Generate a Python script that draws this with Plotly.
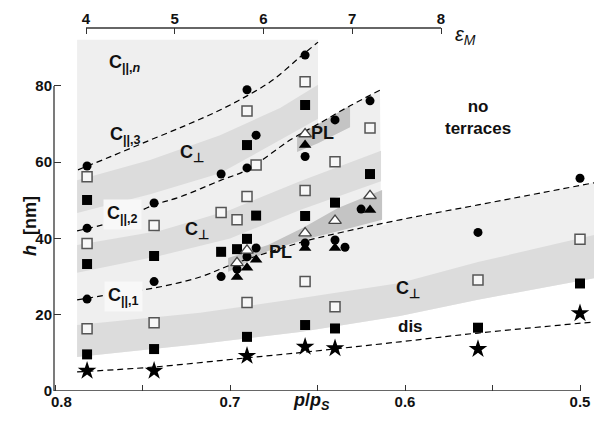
import plotly.graph_objects as go

# ---------------- data ----------------
# markers: p/pS and h [nm]
fc_p = [0.7817, 0.7817, 0.7817, 0.7434, 0.7434, 0.7051, 0.7051, 0.6960, 0.6903, 0.6903, 0.6903,
        0.6851, 0.6851, 0.6571, 0.6571, 0.6571, 0.6400, 0.6400, 0.6343, 0.6251, 0.6200, 0.5583, 0.5]
fc_h = [59.0, 42.7, 24.1, 49.3, 28.7, 56.9, 30.0, 32.0, 79.0, 58.5, 35.2,
        67.1, 37.5, 88.1, 61.5, 38.8, 71.1, 39.6, 37.7, 47.7, 76.1, 41.6, 55.8]

os_p = [0.7817, 0.7817, 0.7817, 0.7434, 0.7434, 0.7051, 0.6960, 0.6903, 0.6903, 0.6903,
        0.6851, 0.6571, 0.6571, 0.6571, 0.6400, 0.6400, 0.6200, 0.5583, 0.5]
os_h = [56.2, 38.7, 16.3, 43.4, 17.9, 46.8, 44.9, 73.4, 51.0, 23.2,
        59.3, 81.1, 52.6, 28.7, 60.1, 22.1, 69.0, 29.1, 39.8]

fs_p = [0.7817, 0.7817, 0.7817, 0.7434, 0.7434, 0.7051, 0.6960, 0.6903, 0.6903, 0.6903,
        0.6851, 0.6571, 0.6571, 0.6571, 0.6400, 0.6400, 0.6200, 0.5583, 0.5]
fs_h = [50.1, 33.3, 9.6, 35.4, 11.0, 36.5, 37.2, 64.5, 39.9, 14.2,
        46.0, 75.0, 45.9, 17.3, 49.4, 16.4, 56.9, 16.6, 28.2]

ot_p = [0.6960, 0.6903, 0.6571, 0.6571, 0.6400, 0.6200]
ot_h = [33.6, 36.9, 67.4, 41.4, 44.7, 51.2]

ft_p = [0.6960, 0.6903, 0.6851, 0.6571, 0.6571, 0.6400, 0.6200]
ft_h = [29.9, 32.3, 34.4, 64.5, 37.5, 37.5, 47.5]

st_p = [0.7817, 0.7434, 0.6903, 0.6571, 0.6400, 0.5583, 0.5]
st_h = [5.3, 5.3, 9.2, 11.6, 11.2, 11.0, 20.4]

# dashed guide lines
l1_p = [0.7869, 0.7686, 0.7457, 0.7246, 0.7057, 0.6903, 0.6754, 0.6600, 0.6497]
l1_h = [58.0, 61.4, 65.8, 69.8, 73.7, 77.4, 81.6, 87.6, 91.5]
l2_p = [0.7874, 0.7629, 0.7434, 0.7286, 0.7051, 0.6903, 0.6657, 0.6497, 0.6314, 0.6143]
l2_h = [42.0, 44.9, 48.8, 50.9, 55.3, 58.0, 65.8, 70.0, 74.8, 78.9]
l3_p = [0.7874, 0.7629, 0.7434, 0.7171, 0.6983, 0.6771, 0.6571, 0.6354, 0.6029, 0.5583, 0.4920]
l3_h = [23.9, 25.7, 27.0, 29.9, 33.3, 36.5, 39.3, 41.7, 44.9, 48.8, 54.6]
l4_p = [0.7874, 0.7434, 0.6903, 0.6571, 0.6029, 0.5583, 0.4920]
l4_h = [5.0, 6.3, 8.7, 10.2, 12.9, 15.2, 18.1]

# shaded regions
light_p = [0.7874, 0.6497, 0.6497, 0.6314, 0.6143, 0.6137, 0.6029, 0.5583, 0.4920,
           0.4920, 0.5583, 0.6029, 0.6600, 0.7171, 0.7874]
light_h = [92.1, 92.1, 70.0, 74.8, 78.9, 43.3, 44.9, 48.8, 54.6,
           29.6, 23.9, 19.7, 15.5, 12.3, 8.9]
band1_p = [0.7874, 0.7457, 0.7057, 0.6714, 0.6497, 0.6497, 0.6714, 0.7057, 0.7457, 0.7874]
band1_h = [55.3, 60.6, 67.1, 74.2, 80.3, 71.4, 65.8, 57.1, 51.6, 46.7]
band2_p = [0.7874, 0.7400, 0.7000, 0.6600, 0.6137, 0.6137, 0.6600, 0.7000, 0.7400, 0.7874]
band2_h = [38.3, 42.0, 47.5, 55.0, 63.0, 55.0, 47.5, 40.0, 35.5, 31.0]
band3_p = [0.7874, 0.7171, 0.6657, 0.6029, 0.5583, 0.4920,
           0.4920, 0.5583, 0.6029, 0.6600, 0.7171, 0.7874]
band3_h = [17.3, 20.5, 23.9, 28.3, 33.8, 40.9,
           29.6, 23.9, 19.7, 15.5, 12.3, 8.9]
pl1_p = [0.6617, 0.6497, 0.6314, 0.6314, 0.6497, 0.6617]
pl1_h = [67.1, 70.0, 74.8, 69.2, 65.0, 62.7]
pl2_p = [0.7011, 0.6783, 0.6583, 0.6383, 0.6131, 0.6131, 0.6383, 0.6583, 0.6783, 0.7011]
pl2_h = [34.9, 38.3, 42.8, 48.0, 52.7, 44.9, 41.9, 39.6, 36.7, 31.2]

x_ticks = [0.8, 0.75, 0.7, 0.65, 0.6, 0.55, 0.5]
x_ticktext = ['\u00a0\u00a0\u00a00.8', '', '0.7', '', '0.6', '', '0.5']
y_ticks = [0, 20, 40, 60, 80]
eps_ticks = [4, 5, 6, 7, 8]

# ---------------- figure ----------------
LIGHT = '#efefef'
MID = '#dcdcdc'
DARK = '#c4c4c4'
AX = '#333333'
FONT = 'Liberation Sans, Arial, Helvetica, sans-serif'

fig = go.Figure()

def region(px, hy, color):
    fig.add_trace(go.Scatter(x=px, y=hy, mode='lines', fill='toself', fillcolor=color,
                             line=dict(width=0, color=color), hoverinfo='skip', showlegend=False))

region(light_p, light_h, LIGHT)
region(band1_p, band1_h, MID)
region(band2_p, band2_h, MID)
region(band3_p, band3_h, MID)
region(pl1_p, pl1_h, DARK)
region(pl2_p, pl2_h, DARK)

for lp, lh in [(l1_p, l1_h), (l2_p, l2_h), (l3_p, l3_h), (l4_p, l4_h)]:
    fig.add_trace(go.Scatter(x=lp, y=lh, mode='lines', line=dict(color='black', width=1.2, dash='6px,4px'),
                             line_shape='spline', hoverinfo='skip', showlegend=False))

def pts(px, hy, symbol, size, fill, edge, lw):
    fig.add_trace(go.Scatter(x=px, y=hy, mode='markers', showlegend=False,
                             marker=dict(symbol=symbol, size=size, color=fill,
                                         line=dict(color=edge, width=lw))))

pts(os_p, os_h, 'square', 10, '#f7f7f7', '#555555', 1.5)
pts(fs_p, fs_h, 'square', 10, 'black', 'black', 0)
pts(fc_p, fc_h, 'circle', 9, 'black', 'black', 0)
pts(ot_p, ot_h, 'triangle-up', 11, 'white', '#444444', 1.3)
pts(ft_p, ft_h, 'triangle-up', 11, 'black', 'black', 0)
pts(st_p, st_h, 'star', 14, 'black', 'black', 0)

# invisible trace on top axis
fig.add_trace(go.Scatter(x=eps_ticks, y=[None] * len(eps_ticks), xaxis='x2', yaxis='y',
                         mode='markers', showlegend=False, hoverinfo='skip'))

tickfont = dict(family=FONT, size=15, color='#111111', weight='bold')
fig.update_layout(
    width=594, height=426,
    margin=dict(l=54, r=0, t=28, b=35),
    plot_bgcolor='white', paper_bgcolor='white',
    xaxis=dict(range=[0.8006, 0.4920], tickvals=x_ticks, ticktext=x_ticktext, ticks='inside',
               ticklen=6, tickcolor=AX, tickwidth=1.2, showline=False, showgrid=False,
               zeroline=False, tickfont=tickfont),
    yaxis=dict(range=[0, 95.2], tickvals=y_ticks, ticks='inside', ticklen=7, tickcolor=AX,
               tickwidth=1.2, showline=False, showgrid=False, zeroline=False, tickfont=tickfont,
               ticklabelstandoff=1),
    xaxis2=dict(range=[3.639, 9.724], overlaying='x', side='top', anchor='y', tickvals=eps_ticks,
                ticks='inside', ticklen=6, tickcolor=AX, tickwidth=1.2, showline=False,
                showgrid=False, zeroline=False, tickfont=tickfont),
)

# axis lines
fig.add_shape(type='line', xref='x', yref='y', x0=0.8006, x1=0.5, y0=0, y1=0,
              line=dict(color=AX, width=1.3))
fig.add_shape(type='line', xref='paper', yref='y', x0=0, x1=0, y0=0, y1=80,
              line=dict(color=AX, width=1.3))
fig.add_shape(type='line', xref='x2', yref='paper', x0=4, x1=8, y0=1, y1=1,
              line=dict(color=AX, width=1.3))

lab = dict(family=FONT, size=18, color='#111111', weight='bold')
def note(text, x, y, bg=None, size=18):
    f = dict(lab)
    f['size'] = size
    fig.add_annotation(x=x, y=y, xref='x', yref='y', text=text, showarrow=False, font=f,
                       bgcolor=bg, borderpad=3)

note('C<sub>||,<i>n</i></sub>', 0.7600, 86.0)
note('C<sub>||,3</sub>', 0.7600, 67.1)
note('C<sub>⊥</sub>', 0.7217, 62.4)
note('C<sub>||,2</sub>', 0.7617, 46.2, bg='#f8f8f8')
note('C<sub>⊥</sub>', 0.7189, 42.0)
note('C<sub>||,1</sub>', 0.7611, 24.7, bg='#f8f8f8')
note('PL', 0.6714, 36.5)
note('PL', 0.6469, 67.7)
note('no<br>terraces', 0.5583, 71.8, size=17)
note('C<sub>⊥</sub>', 0.5983, 26.5)
note('dis', 0.5971, 16.8, size=17)

fig.add_annotation(xref='paper', yref='paper', x=-0.0667, y=0.4545, textangle=-90,
                   text='<i>h</i>  [nm]', showarrow=False,
                   font=dict(family=FONT, size=18, color='#111111', weight='bold'))
fig.add_annotation(xref='paper', yref='paper', x=0.476, y=-0.065,
                   text='<i>p</i>/<i>p</i><sub><i>S</i></sub>', showarrow=False,
                   font=dict(family=FONT, size=18, color='#111111', weight='bold'))
fig.add_annotation(xref='paper', yref='paper', x=0.785, y=1.02,
                   text='<i>ε</i><sub><i>M</i></sub>', showarrow=False,
                   font=dict(family=FONT, size=20, color='#111111'))

fig.write_html('out.html', config={'displayModeBar': False},
               post_script="document.body.style.margin='0';document.body.style.padding='0';")
